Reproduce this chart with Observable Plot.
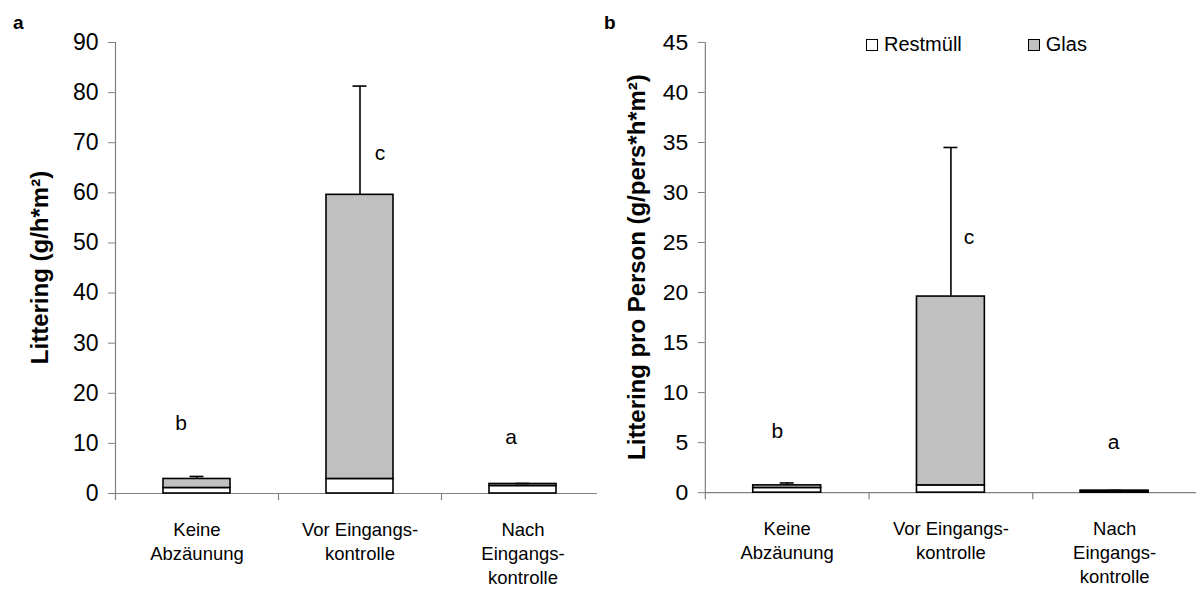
<!DOCTYPE html>
<html>
<head>
<meta charset="utf-8">
<script src="https://cdn.jsdelivr.net/npm/d3@7"></script>
<script src="https://cdn.jsdelivr.net/npm/@observablehq/plot@0.6"></script>
<style>
  html, body { margin: 0; padding: 0; background: #fff; }
  #wrap { position: relative; width: 1196px; height: 599px; font-family: "Liberation Sans", Arial, sans-serif; color: #000; }
  .panel { position: absolute; top: 0; }
  .tag { position: absolute; font-weight: bold; font-size: 19px; z-index: 2; }
  #legend { position: absolute; top: 33px; left: 866px; display: flex; font-size: 20px; z-index: 2; }
  #legend .item { display: flex; align-items: center; }
  #legend .sw { width: 12px; height: 12px; border: 1px solid #000; margin-right: 6px; box-sizing: border-box; }
</style>
</head>
<body>
<div id="wrap">
  <div id="panelA" class="panel" style="left:0px;"></div>
  <div id="panelB" class="panel" style="left:604px;"></div>
  <div class="tag" style="left:13px; top:12px;">a</div>
  <div class="tag" style="left:604px; top:12px;">b</div>
  <div id="legend"></div>
</div>
<script>
// Site categories (line breaks as printed under the axis)
const categories = ["Keine\nAbzäunung", "Vor Eingangs-\nkontrolle", "Nach\nEingangs-\nkontrolle"];
const fractions = ["Restmüll", "Glas"];

// a: littering per area and hour (g/h*m²)
const restA = [1.1, 2.9, 1.5];
const glasA = [1.8, 56.7, 0.4];
const errA = [0.5, 21.7, 0.1];
const lettersA = ["b", "c", "a"];
const letterYA = [14.0, 67.9, 11.2];

// b: littering per person (g/pers*h*m²)
const restB = [0.47, 0.73, 0.15];
const glasB = [0.26, 18.87, 0.05];
const errB = [0.24, 14.9, 0.02];
const lettersB = ["b", "c", "a"];
const letterYB = [6.1, 25.5, 5.0];

const fills = ["#ffffff", "#c0c0c0"];
const axisGrey = "#808080";

function panel({width, marginLeft, endInset, yMax, yStep, rest, glas, err, letters, letterY, letterDx, title, titleX}) {
  const height = 599, marginTop = 42, marginBottom = 106, marginRight = 0;
  const bw = (width - marginLeft - marginRight) / categories.length;

  const rows = categories.flatMap((c, i) => [
    {cat: c, type: fractions[0], value: rest[i]},
    {cat: c, type: fractions[1], value: glas[i]}
  ]);
  const totals = categories.map((c, i) => ({cat: c, top: rest[i] + glas[i], end: rest[i] + glas[i] + err[i]}));
  const marks = categories.map((c, i) => ({cat: c, letter: letters[i], y: letterY[i], dx: letterDx[i]}));

  const svg = Plot.plot({
    width, height, marginTop, marginBottom, marginLeft, marginRight,
    style: {fontFamily: "Liberation Sans, Arial, sans-serif", fontSize: "18px", color: "#000", background: "transparent"},
    x: {domain: categories, padding: 0, axis: null},
    y: {domain: [0, yMax], axis: null},
    color: {domain: fractions, range: fills},
    marks: [
      // bottom and left axis lines, with category boundary ticks
      Plot.ruleY([0], {stroke: axisGrey, strokeWidth: 1.2, insetRight: endInset}),
      Plot.ruleX([categories[0]], {x: d => d, dx: -bw / 2, stroke: axisGrey, strokeWidth: 1.2, insetBottom: -7}),
      Plot.ruleX(categories.slice(1), {x: d => d, dx: -bw / 2, y1: 0, y2: 0, insetBottom: -7, stroke: axisGrey, strokeWidth: 1.2}),
      Plot.axisY({ticks: d3.range(0, yMax + yStep / 2, yStep), tickSize: 7, tickPadding: 10, fontSize: 23, stroke: axisGrey, label: null, tickFormat: d => String(d)}),
      Plot.axisX({tickSize: 0, tickPadding: 25, fontSize: 18.5, lineHeight: 1.3, label: null}),
      // stacked bars
      Plot.barY(rows, Plot.stackY({x: "cat", y: "value", fill: "type", order: fractions, stroke: "#000", strokeWidth: 1.6, insetLeft: 48, insetRight: 48})),
      // error bars (upper only)
      Plot.ruleX(totals, {x: "cat", y1: "top", y2: "end", stroke: "#000", strokeWidth: 1.6}),
      Plot.tickY(totals, {x: "cat", y: "end", stroke: "#000", strokeWidth: 1.6, insetLeft: (bw - 14) / 2, insetRight: (bw - 14) / 2}),
      // significance letters
      ...marks.map(m => Plot.text([m], {x: "cat", y: "y", text: "letter", dx: m.dx, fontSize: 21, fill: "#000"}))
    ]
  });

  d3.select(svg).append("text")
    .attr("transform", `translate(${titleX},${(marginTop + height - marginBottom) / 2}) rotate(-90)`)
    .attr("text-anchor", "middle")
    .attr("dy", "0.35em")
    .attr("font-weight", "bold")
    .attr("font-size", 24)
    .attr("fill", "#000")
    .text(title);
  return svg;
}

document.getElementById("panelA").append(panel({
  width: 604, marginLeft: 115, endInset: 7, yMax: 90, yStep: 10,
  rest: restA, glas: glasA, err: errA, letters: lettersA, letterY: letterYA,
  letterDx: [-16, 20, -12],
  title: "Littering (g/h*m²)", titleX: 40
}));

document.getElementById("panelB").append(panel({
  width: 593, marginLeft: 101, endInset: 0, yMax: 45, yStep: 5,
  rest: restB, glas: glasB, err: errB, letters: lettersB, letterY: letterYB,
  letterDx: [-10, 18, -1],
  title: "Littering pro Person (g/pers*h*m²)", titleX: 33
}));

// legend
const legend = d3.select("#legend");
fractions.forEach((f, i) => {
  const item = legend.append("div").attr("class", "item").style("margin-right", i === 0 ? "66px" : "0px");
  item.append("div").attr("class", "sw").style("background", fills[i]);
  item.append("span").text(f);
});
</script>
</body>
</html>
